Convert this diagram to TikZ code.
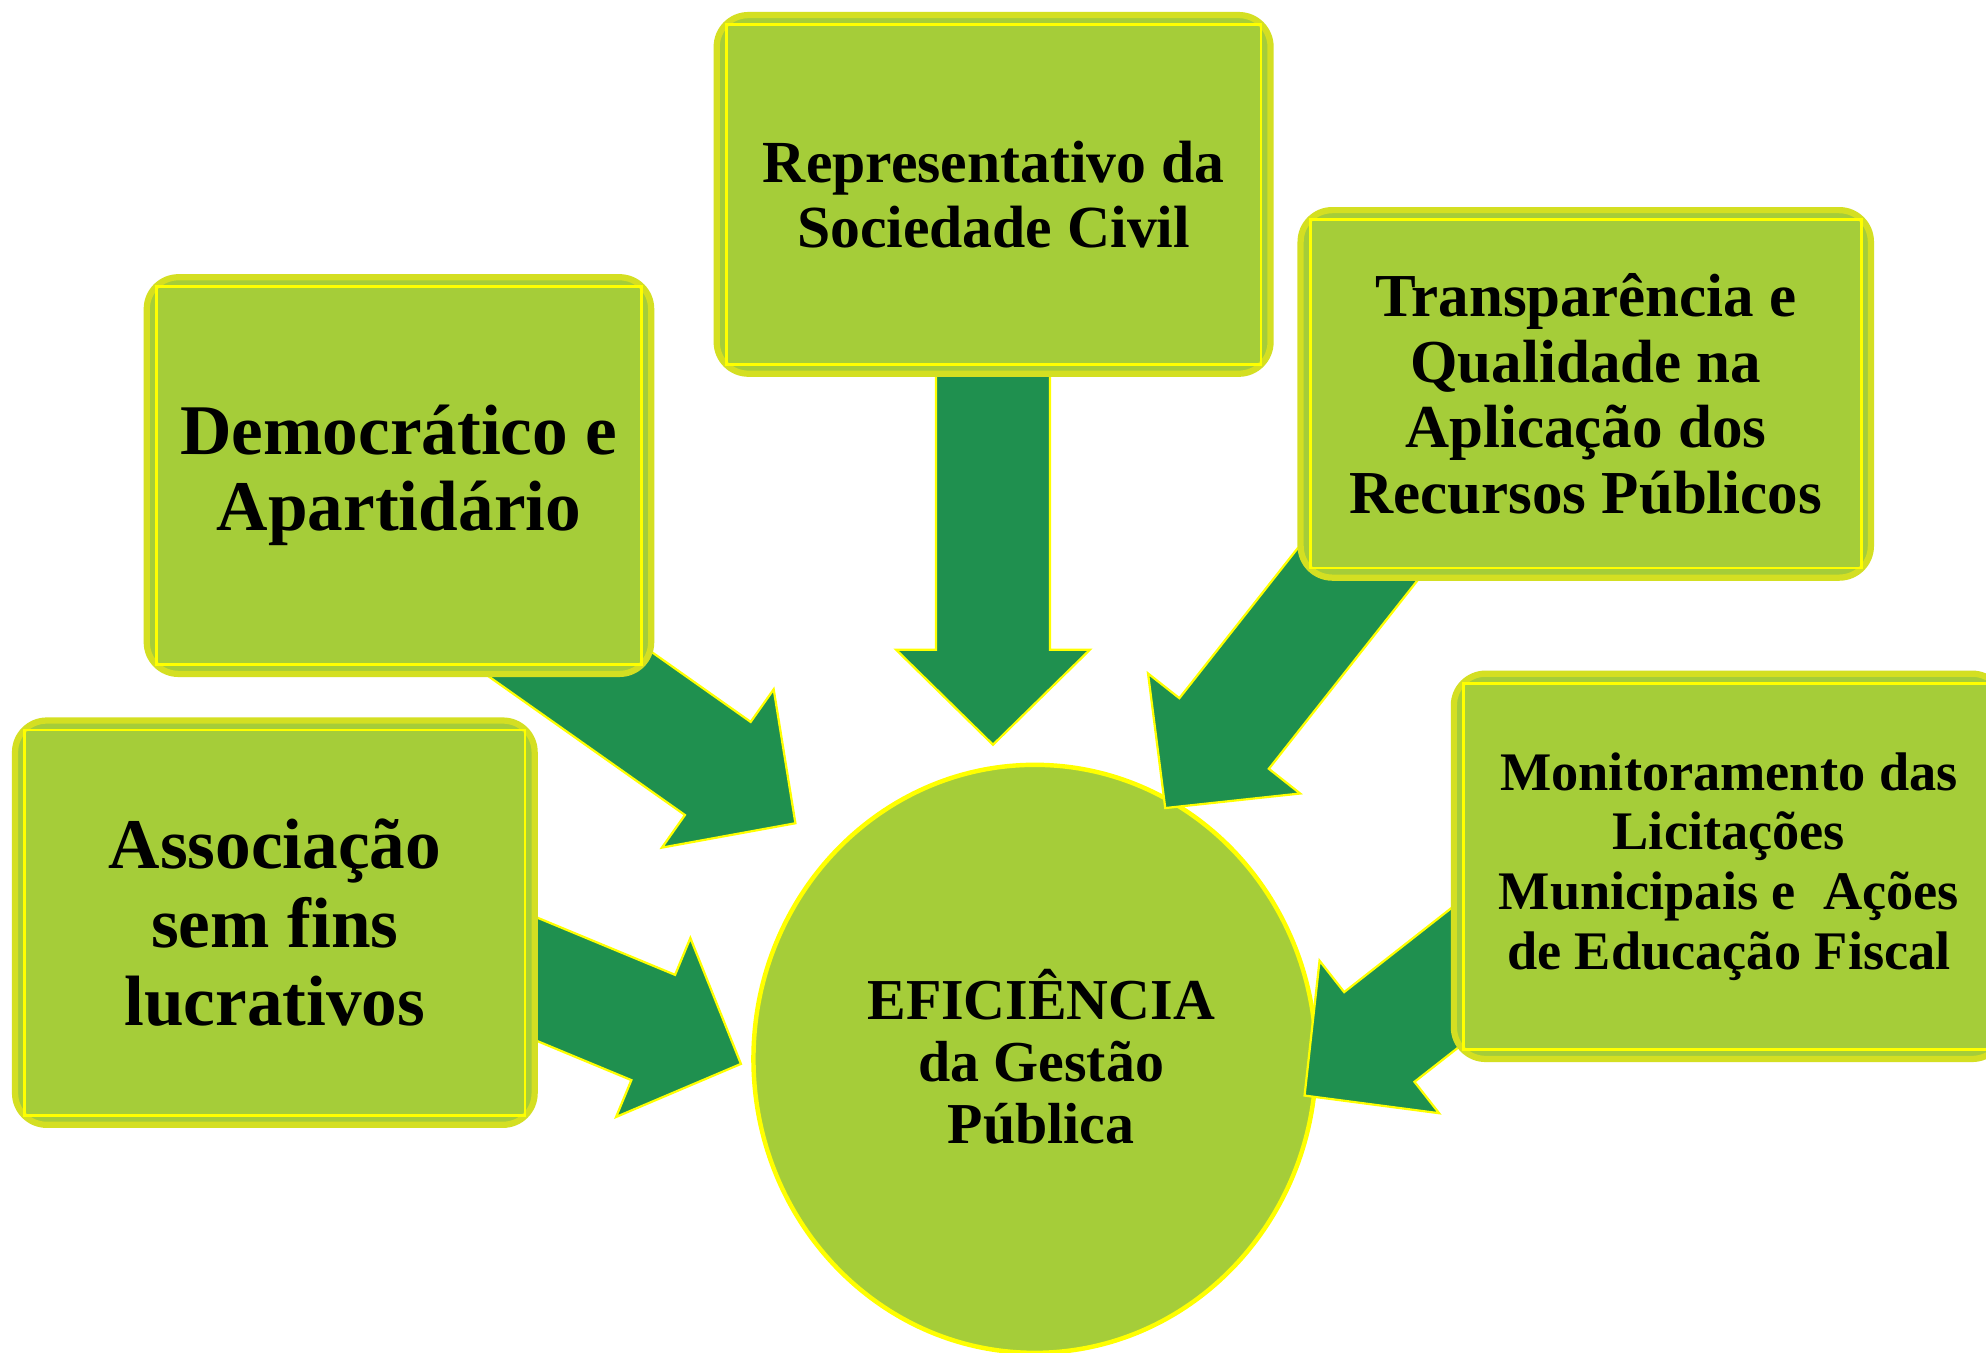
\documentclass[tikz,border=0pt]{standalone}
\usepackage{fontspec}
\setmainfont{Liberation Serif}
\usetikzlibrary{calc,shapes.geometric}
\definecolor{leaf}{RGB}{165,205,57}
\definecolor{boxedge}{RGB}{212,223,34}
\definecolor{arrowgreen}{RGB}{31,144,79}
\definecolor{yel}{RGB}{255,255,0}
\tikzset{
  panel/.style={draw=boxedge, line width=1.4pt, fill=leaf, rounded corners=0.25cm, inner sep=0pt, align=center},
  innerline/.style={draw=yel, line width=0.6pt},
  blockarrow/.style={fill=arrowgreen, draw=yel, line width=0.5pt, line join=miter},
  hub/.style={ellipse, draw=yel, line width=1pt, fill=leaf, inner sep=0pt, align=center}
}
\newcommand\blockarr[2]{%
  \path let \p1=($(#2)-(#1)$) in
    \pgfextra{\pgfmathsetmacro\tmpang{atan2(\y1,\x1)}\pgfmathsetmacro\tmplen{veclen(\x1,\y1)/0.284528}%
      \xdef\barang{\tmpang}\xdef\barlen{\tmplen}};
  \draw[blockarrow, shift={(#2)}, rotate=\barang] (0,0) -- (-75,76.5) -- (-75,45) -- (-\barlen,45) -- (-\barlen,-45) -- (-75,-45) -- (-75,-76.5) -- cycle;
}
\begin{document}
\begin{tikzpicture}[x=0.01cm, y=-0.01cm]
\clip (0,0) rectangle (1568,1068);
\fill[white] (0,0) rectangle (1568,1068);

% central hub
\node[hub, minimum width=4.44cm, minimum height=4.64cm] (eff) at (817,836) {};
\node[align=center, font=\fontsize{13}{13.9}\selectfont\bfseries] (efftext) at (822,834) {EFICIÊNCIA\\da Gestão\\Pública};

% arrow end points
\coordinate (tB) at (784,250);  \coordinate (hB) at (784,588);
\coordinate (tA) at (383,477);  \coordinate (hA) at (628,650);
\coordinate (tD) at (308,725);  \coordinate (hD) at (585,840);
\coordinate (tC) at (1137,363); \coordinate (hC) at (920,638);
\coordinate (tE) at (1266,680); \coordinate (hE) at (1030,865);

\blockarr{tB}{hB}
\blockarr{tA}{hA}
\blockarr{tD}{hD}
\blockarr{tC}{hC}
\blockarr{tE}{hE}

% boxes
\node[panel, minimum width=3.98cm, minimum height=3.13cm, font=\fontsize{16}{17.1}\selectfont\bfseries] (dem) at (315,375.5) {Democrático e\\Apartidário};
\node[panel, minimum width=4.37cm, minimum height=2.83cm, font=\fontsize{13.4}{14.5}\selectfont\bfseries] (rep) at (784.5,153.5) {Representativo da\\Sociedade Civil};
\node[panel, minimum width=4.50cm, minimum height=2.90cm, font=\fontsize{13.7}{14.8}\selectfont\bfseries] (tra) at (1252,311) {Transparência e\\Qualidade na\\Aplicação dos\\Recursos Públicos};
\node[panel, minimum width=4.10cm, minimum height=3.19cm, font=\fontsize{16}{17.6}\selectfont\bfseries] (ass) at (217,728.5) {Associação\\sem fins\\lucrativos};
\node[panel, minimum width=4.34cm, minimum height=3.04cm, font=\fontsize{12.2}{13.4}\selectfont\bfseries] (mon) at (1365,684) {Monitoramento das\\Licitações\\Municipais e\ \ Ações\\de Educação Fiscal};

\foreach \b in {dem,rep,tra,ass,mon}
  \draw[innerline] ($(\b.north west)+(10,10)$) rectangle ($(\b.south east)+(-10,-10)$);
\end{tikzpicture}
\end{document}
